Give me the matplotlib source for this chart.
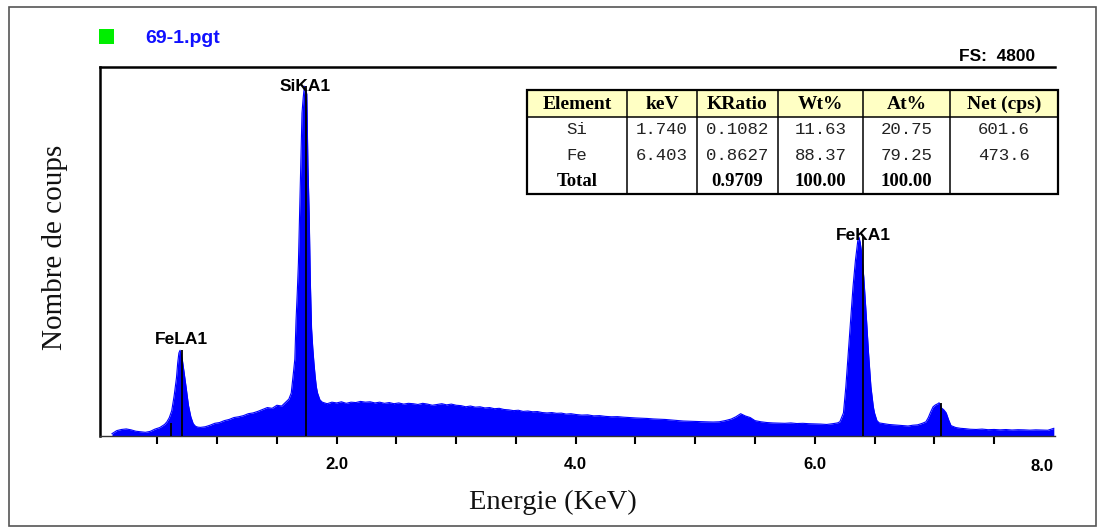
import matplotlib
matplotlib.use("Agg")
import matplotlib.pyplot as plt
from matplotlib.patches import Rectangle

# spectre EDS (energie en keV, nombre de coups)
energy_kev = [
    0.12, 0.16, 0.20, 0.24, 0.28, 0.32, 0.36, 0.40, 0.44, 0.48,
    0.52, 0.56, 0.58, 0.60, 0.62, 0.64, 0.66, 0.67, 0.68, 0.69,
    0.70, 0.71, 0.72, 0.74, 0.76, 0.78, 0.80, 0.82, 0.84, 0.86,
    0.90, 0.94, 0.98, 1.02, 1.06, 1.10, 1.14, 1.18, 1.22, 1.26,
    1.30, 1.34, 1.38, 1.42, 1.46, 1.50, 1.54, 1.58, 1.60, 1.62,
    1.63, 1.64, 1.65, 1.66, 1.67, 1.68, 1.69, 1.70, 1.71, 1.72,
    1.73, 1.74, 1.75, 1.76, 1.77, 1.78, 1.79, 1.80, 1.81, 1.82,
    1.83, 1.84, 1.86, 1.88, 1.90, 1.92, 1.96, 2.00, 2.04, 2.08,
    2.12, 2.16, 2.20, 2.24, 2.28, 2.32, 2.36, 2.40, 2.44, 2.48,
    2.52, 2.56, 2.60, 2.64, 2.68, 2.72, 2.76, 2.80, 2.84, 2.88,
    2.92, 2.96, 3.00, 3.04, 3.08, 3.12, 3.16, 3.20, 3.24, 3.28,
    3.32, 3.36, 3.40, 3.44, 3.48, 3.52, 3.56, 3.60, 3.64, 3.68,
    3.72, 3.76, 3.80, 3.84, 3.88, 3.92, 3.96, 4.00, 4.05, 4.10,
    4.15, 4.20, 4.25, 4.30, 4.35, 4.40, 4.45, 4.50, 4.55, 4.60,
    4.65, 4.70, 4.75, 4.80, 4.85, 4.90, 4.95, 5.00, 5.05, 5.10,
    5.15, 5.20, 5.25, 5.30, 5.34, 5.38, 5.42, 5.46, 5.50, 5.55,
    5.60, 5.65, 5.70, 5.75, 5.80, 5.85, 5.90, 5.95, 6.00, 6.05,
    6.10, 6.15, 6.19, 6.21, 6.23, 6.24, 6.26, 6.28, 6.30, 6.32,
    6.34, 6.36, 6.37, 6.38, 6.39, 6.41, 6.43, 6.45, 6.47, 6.49,
    6.50, 6.52, 6.54, 6.58, 6.62, 6.66, 6.70, 6.74, 6.78, 6.82,
    6.86, 6.90, 6.93, 6.95, 6.97, 6.99, 7.01, 7.03, 7.04, 7.05,
    7.06, 7.08, 7.10, 7.12, 7.14, 7.18, 7.22, 7.26, 7.30, 7.35,
    7.40, 7.45, 7.50, 7.55, 7.60, 7.65, 7.70, 7.75, 7.80, 7.85,
    7.90, 7.95, 8.00,
]
counts = [
    30, 70, 85, 92, 80, 62, 55, 48, 60, 90,
    110, 150, 185, 240, 330, 520, 760, 950, 1080, 1115,
    1050, 980, 870, 640, 400, 250, 160, 125, 115, 112,
    120, 140, 165, 175, 200, 215, 240, 250, 265, 290,
    300, 320, 345, 370, 360, 400, 390, 450, 480, 560,
    700, 850, 1000, 1500, 1850, 2250, 2900, 3500, 4200, 4400,
    4550, 4500, 4450, 3500, 2900, 2000, 1400, 1150, 950, 780,
    640, 560, 470, 440, 430, 420, 440, 430, 445, 425,
    440, 435, 450, 440, 445, 430, 440, 425, 435, 420,
    430, 415, 425, 420, 410, 425, 415, 400, 410, 420,
    405, 415, 400, 395, 380, 390, 375, 380, 365, 370,
    355, 360, 345, 340, 330, 335, 320, 325, 315, 318,
    305, 300, 305, 295, 298, 285, 290, 280, 272, 275,
    262, 265, 255, 250, 252, 245, 240, 235, 232, 228,
    222, 218, 215, 208, 200, 195, 192, 190, 185, 184,
    182, 185, 200, 220, 250, 290, 260, 240, 200, 185,
    175, 170, 168, 165, 170, 162, 165, 160, 158, 155,
    150, 160, 170, 185, 260, 300, 640, 1080, 1500, 1940,
    2280, 2540, 2585, 2520, 2410, 2070, 1590, 1080, 640, 380,
    300, 200, 170, 160, 150, 145, 140, 135, 130, 140,
    145, 165, 185, 240, 315, 380, 405, 420, 432, 410,
    365, 340, 300, 210, 135, 110, 100, 95, 88, 85,
    90, 82, 85, 80, 84, 78, 82, 80, 76, 80,
    78, 75, 100,
]
assert len(energy_kev) == len(counts)

# raies identifiees (KLM)
marker_kev = [0.615, 0.705, 1.740, 6.403, 7.057]
marker_counts = [170, 1115, 4550, 2585, 430]

peak_labels = ["FeLA1", "SiKA1", "FeKA1"]
peak_label_kev = [0.705, 1.740, 6.403]
peak_label_counts = [1196, 4488, 2550]

full_scale = 4800
x_ticks = [0.5, 1.0, 1.5, 2.0, 2.5, 3.0, 3.5, 4.0, 4.5, 5.0, 5.5, 6.0, 6.5, 7.0, 7.5]
x_tick_labels = ["", "", "", "2.0", "", "", "", "4.0", "", "", "", "6.0", "", "", ""]
x_last_label = "8.0"

table_header = ["Element", "keV", "KRatio", "Wt%", "At%", "Net (cps)"]
table_rows = [
    ["Si", "1.740", "0.1082", "11.63", "20.75", "601.6"],
    ["Fe", "6.403", "0.8627", "88.37", "79.25", "473.6"],
]
table_total = ["Total", "", "0.9709", "100.00", "100.00", ""]

W, H = 1099, 528
fig = plt.figure(figsize=(W / 100, H / 100), dpi=100, facecolor="white")

# axe principal : x 100..1055 px, y 67..436 px
ax = fig.add_axes([100 / W, 1 - 436 / H, 955 / W, 369 / H])
ax.fill_between(energy_kev, counts, 0, color="#0000ff", linewidth=0, zorder=2)
ax.plot(energy_kev, counts, color="#0000ff", linewidth=0.8, zorder=2)
ax.vlines(marker_kev, 0, marker_counts, color="black", linewidth=1.3, zorder=3)

for lab, xk, yc in zip(peak_labels, peak_label_kev, peak_label_counts):
    ax.text(xk, yc, lab, ha="center", va="baseline", fontsize=12.5,
            fontweight="bold", family="Liberation Sans", color="black", zorder=4)

ax.set_xlim(0.02, 8.01)
ax.set_ylim(0, full_scale)
ax.set_facecolor("white")
ax.set_yticks([])
ax.set_xticks(x_ticks)
ax.set_xticklabels(x_tick_labels, fontsize=12, fontweight="bold", family="Liberation Sans")
ax.tick_params(axis="x", direction="out", length=6, width=1.5, color="black", pad=9)
ax.text(8.0, -0.062, x_last_label, transform=ax.get_xaxis_transform(), ha="right",
        va="top", fontsize=12, fontweight="bold", family="Liberation Sans")

ax.spines["right"].set_visible(False)
ax.spines["top"].set_linewidth(1.8)
ax.spines["top"].set_color("black")
ax.spines["left"].set_linewidth(1.8)
ax.spines["left"].set_color("black")
ax.spines["bottom"].set_linewidth(1.0)
ax.spines["bottom"].set_color("#333333")

# calque en pixels pour cadre, entete et tableau
ov = fig.add_axes([0, 0, 1, 1], facecolor="none")
ov.set_xlim(0, W)
ov.set_ylim(H, 0)
ov.axis("off")

ov.add_patch(Rectangle((9, 7), 1087, 519, fill=False, edgecolor="#555555", linewidth=1.2))
ov.add_patch(Rectangle((99, 29), 15, 15, facecolor="#00ee00", edgecolor="none"))
ov.text(145, 43, "69-1.pgt", fontsize=14, fontweight="bold", color="#1010ff",
        family="Liberation Sans", va="baseline")
ov.text(1035, 61, "FS:  4800", fontsize=12.5, fontweight="bold", color="black",
        family="Liberation Sans", ha="right", va="baseline")

ov.text(55, 247, "Nombre de coups", rotation=90, fontsize=21, family="Liberation Serif",
        ha="center", va="center", color="#111111")
ov.text(553, 502, "Energie (KeV)", fontsize=20.5, family="Liberation Serif",
        ha="center", va="center", color="#111111")

# tableau des resultats
col_edges = [527, 627, 697, 778, 863, 950, 1058]
row_edges = [90, 117, 143, 168, 194]
ov.add_patch(Rectangle((col_edges[0], row_edges[0]), col_edges[-1] - col_edges[0],
                       row_edges[-1] - row_edges[0], facecolor="white", edgecolor="none", zorder=5))
ov.add_patch(Rectangle((col_edges[0], row_edges[0]), col_edges[-1] - col_edges[0],
                       row_edges[1] - row_edges[0], facecolor="#ffffc4", edgecolor="none", zorder=5))
for xe in col_edges[1:-1]:
    ov.plot([xe, xe], [row_edges[0], row_edges[-1]], color="black", linewidth=1.1, zorder=6)
ov.plot([col_edges[0], col_edges[-1]], [row_edges[1], row_edges[1]], color="black",
        linewidth=1.1, zorder=6)
ov.add_patch(Rectangle((col_edges[0], row_edges[0]), col_edges[-1] - col_edges[0],
                       row_edges[-1] - row_edges[0], fill=False, edgecolor="black",
                       linewidth=1.6, zorder=7))

centers = [(a + b) / 2 for a, b in zip(col_edges[:-1], col_edges[1:])]
row_mid = [(a + b) / 2 for a, b in zip(row_edges[:-1], row_edges[1:])]
for cx, txt in zip(centers, table_header):
    ov.text(cx, row_mid[0] + 1, txt, ha="center", va="center", fontsize=14,
            fontweight="bold", family="Liberation Serif", zorder=8)
for r, row in enumerate(table_rows):
    for cx, txt in zip(centers, row):
        ov.text(cx, row_mid[r + 1], txt, ha="center", va="center", fontsize=12.5,
                family="Liberation Mono", color="#222222", zorder=8)
for cx, txt in zip(centers, table_total):
    ov.text(cx, row_mid[3], txt, ha="center", va="center", fontsize=13.5,
            fontweight="bold", family="Liberation Serif", zorder=8)

fig.savefig("out.png", dpi=100)
